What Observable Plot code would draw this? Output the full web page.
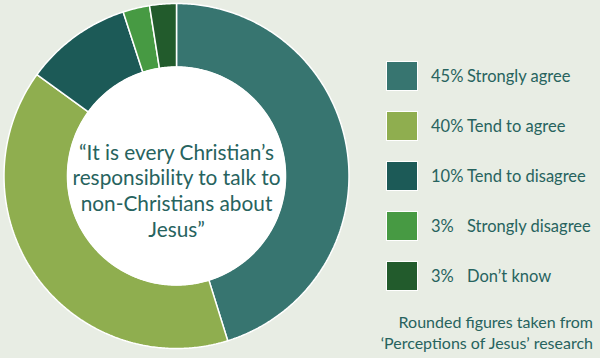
<!DOCTYPE html>
<html>
<head>
<meta charset="utf-8">
<script src="https://cdn.jsdelivr.net/npm/d3@7"></script>
<script src="https://cdn.jsdelivr.net/npm/@observablehq/plot@0.6"></script>
<style>
  html, body { margin: 0; padding: 0; background: #e8ede4; }
  #wrap { position: relative; width: 600px; height: 358px; overflow: hidden; font-family: Lato, sans-serif; color: #27635e; }
  #chart svg { display: block; background: transparent; }
  #legend { position: absolute; left: 386px; top: 61px; }
  .row { display: flex; align-items: center; height: 30px; margin-bottom: 20px; }
  .sw { width: 30px; height: 28px; border: 1px solid #fff; box-sizing: content-box; }
  .pct { margin-left: 13px; width: 36px; font-size: 16.5px; }
  .lab { font-size: 16.5px; }
  #note { position: absolute; right: 7px; top: 311px; text-align: right; font-size: 16px; line-height: 21px; }
</style>
</head>
<body>
<div id="wrap">
  <div id="chart"></div>
  <div id="legend"></div>
  <div id="note"></div>
</div>
<script>
const categories = ["Strongly agree", "Tend to agree", "Tend to disagree", "Strongly disagree", "Don\u2019t know"];
const values = [45.2, 39.8, 10, 2.5, 2.5];
const pctLabels = ["45%", "40%", "10%", "3%", "3%"];
const colors = ["#377570", "#8fae4f", "#1c5a57", "#479a43", "#225b2c"];
const question = "\u201cIt is every Christian\u2019s\nresponsibility to talk to\nnon-Christians about\nJesus\u201d";
const noteLines = ["Rounded figures taken from", "\u2018Perceptions of Jesus\u2019 research"];

const innerRatio = 0.632;
const total = d3.sum(values);
const pts = [];
let acc = 0;
values.forEach((v, i) => {
  const a0 = acc / total * 2 * Math.PI;
  acc += v;
  const a1 = acc / total * 2 * Math.PI;
  const n = Math.max(4, Math.ceil((a1 - a0) / 0.01));
  for (let k = 0; k <= n; k++) {
    const a = a0 + (a1 - a0) * k / n;
    pts.push({cat: categories[i], x: Math.sin(a), y: Math.cos(a)});
  }
  for (let k = n; k >= 0; k--) {
    const a = a0 + (a1 - a0) * k / n;
    pts.push({cat: categories[i], x: innerRatio * Math.sin(a), y: innerRatio * Math.cos(a)});
  }
  pts.push({cat: categories[i], x: Math.sin(a0), y: Math.cos(a0)});
});

const plot = Plot.plot({
  width: 600,
  height: 358,
  margin: 0,
  x: {domain: [-1, 1], range: [3.5, 348.5], axis: null},
  y: {domain: [-1, 1], range: [348, 3], axis: null},
  color: {domain: categories, range: colors},
  style: {background: "transparent"},
  marks: [
    Plot.line(pts, {x: "x", y: "y", z: "cat", fill: "cat", stroke: "white", strokeWidth: 1.5, strokeLinejoin: "miter"}),
    Plot.dot([0], {x: 0, y: 0, r: 109.5, fill: "white", stroke: "none"}),
    Plot.text([question], {x: 0, y: 0, text: d => d, dy: 14, fontSize: 20.8, lineHeight: 1.23, fill: "#27635e", fontFamily: "Lato"})
  ]
});
document.getElementById("chart").appendChild(plot);

const legend = document.getElementById("legend");
categories.forEach((c, i) => {
  const row = document.createElement("div");
  row.className = "row";
  row.innerHTML = `<div class="sw" style="background:${colors[i]}"></div><span class="pct">${pctLabels[i]}</span><span class="lab">${c}</span>`;
  legend.appendChild(row);
});
document.getElementById("note").innerHTML = noteLines.join("<br>");
</script>
</body>
</html>
